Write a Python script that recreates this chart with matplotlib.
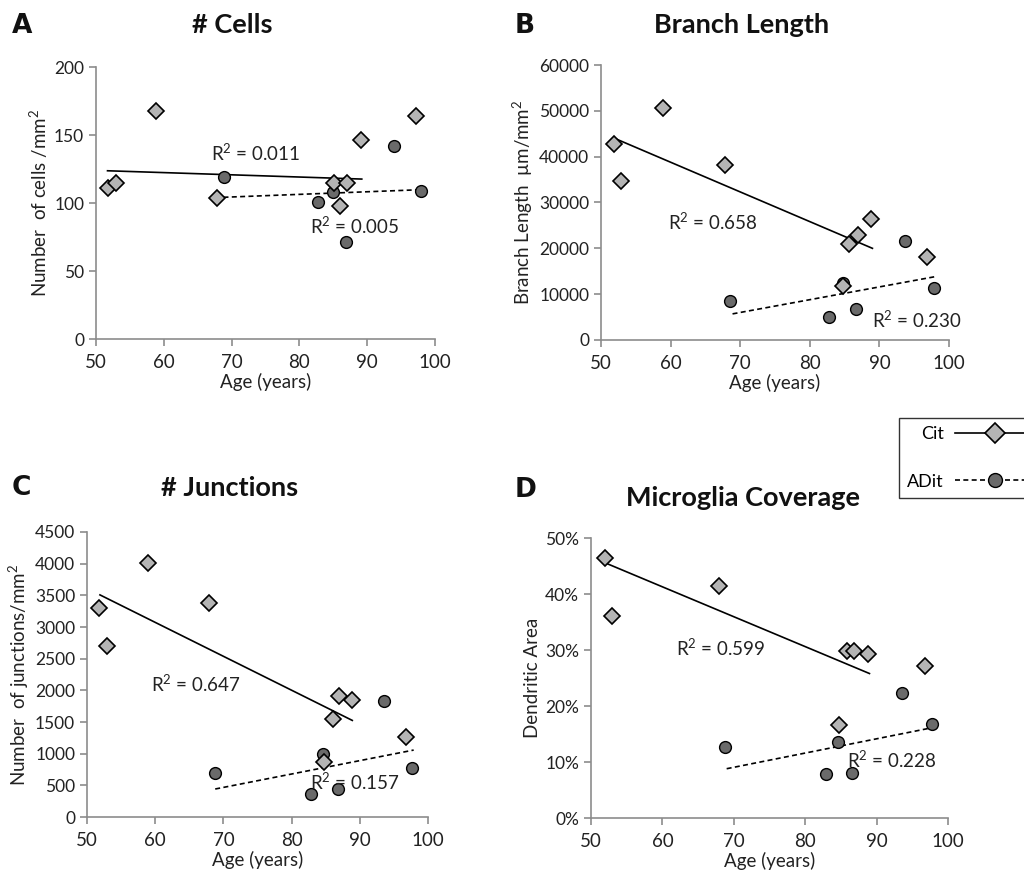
import matplotlib.pyplot as plt
from matplotlib.lines import Line2D
from matplotlib.ticker import FuncFormatter

plt.rcParams['font.family'] = ['Lato', 'DejaVu Sans']

# ages and values
cit_age_a = [51.7, 52.9, 58.8, 67.8, 85.1, 86.0, 87.0, 89.1, 97.2]
cit_val_a = [111, 115, 168, 104, 115, 98, 115, 146, 164]
ad_age_a = [68.9, 82.8, 84.9, 86.8, 93.9, 98.0]
ad_val_a = [119, 101, 108, 71, 142, 109]

cit_age_b = [51.8, 52.9, 58.9, 67.8, 84.8, 85.7, 86.9, 88.8, 96.8]
cit_val_b = [42700, 34600, 50700, 38100, 11800, 21000, 23000, 26500, 18200]
ad_age_b = [68.6, 82.7, 84.7, 86.7, 93.7, 97.8]
ad_val_b = [8500, 5000, 12400, 6800, 21500, 11300]

cit_age_c = [51.8, 53.0, 58.9, 67.9, 84.8, 86.0, 87.0, 88.8, 96.8]
cit_val_c = [3300, 2700, 4010, 3380, 870, 1540, 1910, 1840, 1260]
ad_age_c = [68.7, 82.8, 84.6, 86.8, 93.6, 97.6]
ad_val_c = [690, 360, 990, 440, 1830, 770]

cit_age_d = [51.9, 52.9, 67.9, 84.7, 85.8, 86.8, 88.8, 96.8]
cit_val_d = [46.4, 36.0, 41.5, 16.6, 29.8, 29.8, 29.2, 27.2]
ad_age_d = [68.7, 82.9, 84.6, 86.6, 93.6, 97.7]
ad_val_d = [12.7, 7.9, 13.6, 8.1, 22.4, 16.8]

# trend line ends as drawn
cit_trend = {'A': ([51.7, 89.2], [123.7, 117.6]), 'B': ([51.8, 89.0], [44100, 20000]),
             'C': ([51.9, 88.9], [3507, 1525]), 'D': ([52.1, 89.0], [45.5, 25.8])}
ad_trend = {'A': ([68.8, 98.0], [104.2, 109.8]), 'B': ([68.9, 98.3], [5700, 13900]),
            'C': ([68.8, 97.9], [442, 1057]), 'D': ([69.0, 97.7], [8.8, 16.1])}

r2_cit = {'A': '0.011', 'B': '0.658', 'C': '0.647', 'D': '0.599'}
r2_ad = {'A': '0.005', 'B': '0.230', 'C': '0.157', 'D': '0.228'}
r2_cit_pos = {'A': (67, 137), 'B': (59.6, 25800), 'C': (59.4, 2110), 'D': (61.9, 30.3)}
r2_ad_pos = {'A': (81.5, 83), 'B': (89, 4400), 'C': (82.7, 560), 'D': (85.8, 10.3)}

titles = {'A': '# Cells', 'B': 'Branch Length', 'C': '# Junctions', 'D': 'Microglia Coverage'}
ylabels = {'A': 'Number  of cells /mm$^2$', 'B': 'Branch Length  µm/mm$^2$',
           'C': 'Number  of junctions/mm$^2$', 'D': 'Dendritic Area'}
ylims = {'A': (0, 200, 50), 'B': (0, 60000, 10000), 'C': (0, 4500, 500), 'D': (0, 50, 10)}

data = {'A': (cit_age_a, cit_val_a, ad_age_a, ad_val_a),
        'B': (cit_age_b, cit_val_b, ad_age_b, ad_val_b),
        'C': (cit_age_c, cit_val_c, ad_age_c, ad_val_c),
        'D': (cit_age_d, cit_val_d, ad_age_d, ad_val_d)}

# axes boxes in pixels: left, right, top, bottom
boxes = {'A': (96, 435, 67, 339), 'B': (601, 949, 65, 340),
         'C': (87, 428, 532, 817), 'D': (591, 948, 538, 818)}
letter_pos = {'A': (12, 26), 'B': (515, 26), 'C': (12, 488), 'D': (515, 490)}
title_pos = {'A': (232, 25), 'B': (742, 25), 'C': (230, 488), 'D': (743, 498)}

W, H = 1024, 880
fig = plt.figure(figsize=(W / 100, H / 100), dpi=100)
plt.rcParams['mathtext.fontset'] = 'custom'
plt.rcParams['mathtext.rm'] = 'Lato'

grey = '#8c8c8c'
dia_face = '#b4b4b4'
dot_face = '#6a6a6a'

for key in 'ABCD':
    l, r, t, b = boxes[key]
    ax = fig.add_axes([l / W, 1 - b / H, (r - l) / W, (b - t) / H])
    ca, cv, aa, av = data[key]

    ax.plot(*cit_trend[key], color='black', lw=1.2, zorder=2)
    ax.plot(*ad_trend[key], color='black', lw=1.2, ls=(0, (3, 2)), zorder=2)
    ax.plot(aa, av, 'o', ms=8.5, mfc=dot_face, mec='black', mew=1.0, zorder=3)
    ax.plot(ca, cv, 'D', ms=8, mfc=dia_face, mec='black', mew=1.2, zorder=4)

    ax.text(*r2_cit_pos[key], 'R$^2$ = ' + r2_cit[key], fontsize=13.5, va='center', color='#222222')
    ax.text(*r2_ad_pos[key], 'R$^2$ = ' + r2_ad[key], fontsize=13.5, va='center', color='#222222')

    lo, hi, step = ylims[key]
    ax.set_xlim(50, 100)
    ax.set_ylim(lo, hi)
    ax.set_xticks(range(50, 101, 10))
    ax.set_yticks(range(lo, hi + 1, step))
    if key == 'D':
        ax.yaxis.set_major_formatter(FuncFormatter(lambda v, p: f'{v:.0f}%'))

    for s in ['top', 'right']:
        ax.spines[s].set_visible(False)
    for s in ['left', 'bottom']:
        ax.spines[s].set_color(grey)
        ax.spines[s].set_linewidth(1.2)
    ax.tick_params(colors=grey, labelcolor='#222222', labelsize=12.5, length=5, width=1.2)
    ax.tick_params(axis='x', labelsize=13.5, pad=6)
    ax.set_xlabel('Age (years)', fontsize=13.5, color='#222222', labelpad=1)
    ax.set_ylabel(ylabels[key], fontsize=13.5, color='#222222', labelpad=3)

    fig.text(letter_pos[key][0] / W, 1 - letter_pos[key][1] / H, key, fontsize=19,
             fontweight='bold', family='DejaVu Sans', va='center', ha='left', color='#111111')
    fig.text(title_pos[key][0] / W, 1 - title_pos[key][1] / H, titles[key], fontsize=19.5,
             fontweight='bold', va='center', ha='center', color='#111111')

handles = [Line2D([], [], color='black', lw=1.2, marker='D', ms=10, mfc=dia_face, mec='black', mew=1.2),
           Line2D([], [], color='black', lw=1.2, ls=(0, (3, 2)), marker='o', ms=10,
                  mfc=dot_face, mec='black', mew=1.0)]
fig.legend(handles, ['Cit', 'ADit'], loc='upper left', bbox_to_anchor=(899 / W, 1 - 418 / H),
           markerfirst=False, handlelength=4.5, labelspacing=1.75, fontsize=13,
           frameon=True, fancybox=False, edgecolor='black', borderpad=0.45, borderaxespad=0,
           handletextpad=0.6)

fig.savefig('out.png', dpi=100)
